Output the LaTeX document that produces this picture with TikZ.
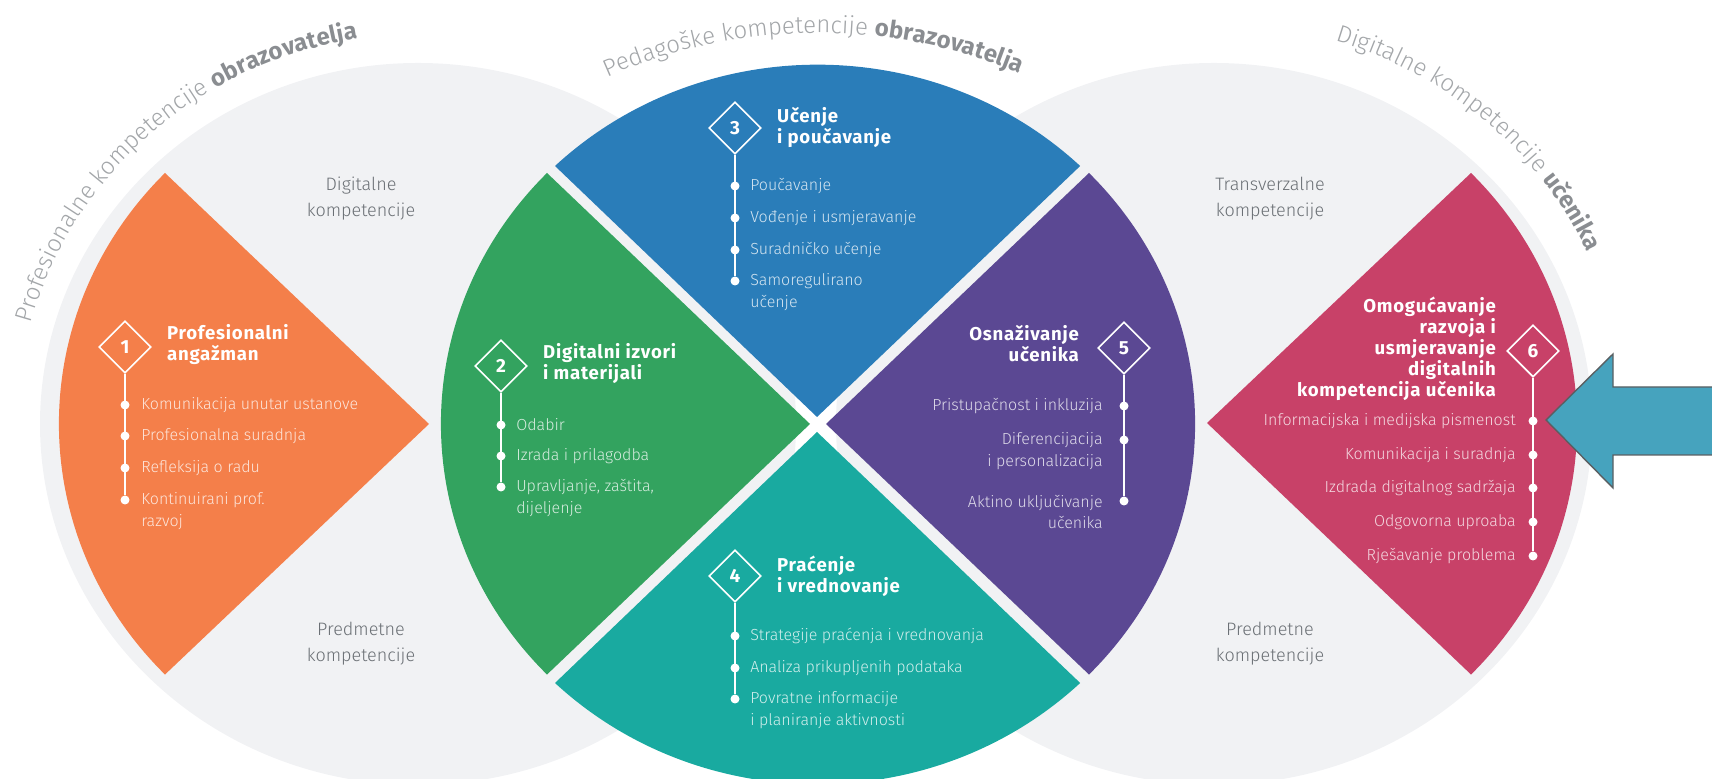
\documentclass[tikz,border=0pt]{standalone}
\usepackage{fontspec}
\setmainfont{Fira Sans}
\newfontfamily\lightfont{Fira Sans Light}
\newfontfamily\headfont[LetterSpace=4]{Fira Sans}
\usetikzlibrary{positioning, shapes.geometric, decorations.text}

\definecolor{panelgray}{HTML}{F1F2F4}
\definecolor{labelgray}{HTML}{6B7075}
\definecolor{curvegray}{HTML}{A3A6A9}
\definecolor{curvebold}{HTML}{8A8D91}
\definecolor{sectororange}{HTML}{F47F4A}
\definecolor{sectorgreen}{HTML}{33A35F}
\definecolor{sectorblue}{HTML}{2A7DB9}
\definecolor{sectorteal}{HTML}{19AAA0}
\definecolor{sectorpurple}{HTML}{5B4893}
\definecolor{sectorrose}{HTML}{C84168}
\definecolor{pointerblue}{HTML}{46A3BE}
\definecolor{pointerline}{HTML}{5A5F62}

\newcommand{\curvelight}{\fontsize{12}{14}\selectfont\lightfont\color{curvegray}}
\newcommand{\curveheavy}{\fontsize{12}{14}\selectfont\bfseries\color{curvebold}}

\begin{document}
\begin{tikzpicture}[
    x=0.5pt,
    y=0.5pt,
    sector/.style={x radius=189pt, y radius=180.5pt},
    numbox/.style={diamond, draw=white, line width=0.8pt, minimum width=26pt, minimum height=26pt, inner sep=0pt, text=white, font=\fontsize{9.5}{10}\selectfont\bfseries},
    stem/.style={draw=white, line width=1pt},
    bullet/.style={circle, fill=white, minimum size=4.5pt, inner sep=0pt},
    headline/.style={text=white, inner sep=0pt, font=\fontsize{9.3}{10.5}\selectfont\headfont\bfseries},
    itemlabel/.style={text=white, text opacity=0.8, inner sep=0pt, font=\fontsize{8}{10.9}\selectfont\lightfont},
    sidelabel/.style={text=labelgray, align=center, inner sep=0pt, font=\fontsize{9}{13}\selectfont\lightfont},
    pointer/.style={fill=pointerblue, draw=pointerline, line width=0.7pt}
]

   \useasboundingbox (0,0) rectangle (1712,779);

   % Gray discs
   \fill[panelgray] (418,355) ellipse [x radius=189pt, y radius=180.5pt];
   \fill[panelgray] (1214,355) ellipse [x radius=189pt, y radius=180.5pt];

   % Sectors
   \fill[sectororange] (429,355) -- (165,606) arc[sector, start angle=136, end angle=224] -- cycle;
   \fill[sectorgreen] (810,355) -- (547,606) arc[sector, start angle=136, end angle=224] -- cycle;
   \fill[sectorblue] (817,362) -- (555,613) arc[sector, start angle=134, end angle=46] -- cycle;
   \fill[sectorteal] (817,347) -- (555,96) arc[sector, start angle=226, end angle=314] -- cycle;
   \fill[sectorpurple] (826,355) -- (1089,606) arc[sector, start angle=44, end angle=-44] -- cycle;
   \fill[sectorrose] (1207,356) -- (1471,606) arc[sector, start angle=44, end angle=-44] -- cycle;

   % Curved titles
   \path[decorate, decoration={text along path, text={|\curvelight|Profesionalne kompetencije |\curveheavy|obrazovatelja}}]
   (421,354) ++(165:202pt and 195.5pt) arc[start angle=165, end angle=88, x radius=202pt, y radius=195.5pt];
   \path[decorate, decoration={text along path, text={|\curvelight|Pedagoške kompetencije |\curveheavy|obrazovatelja}}]
   (818,348) ++(117.3:230pt and 199pt) arc[start angle=117.3, end angle=55, x radius=230pt, y radius=199pt];
   \path[decorate, decoration={text along path, text={|\curvelight|Digitalne kompetencije |\curveheavy|učenika}}]
   (1209,367) ++(72.3:207.5pt and 195pt) arc[start angle=72.3, end angle=15, x radius=207.5pt, y radius=195pt];

   % Side labels
   \node[sidelabel] (digital) at (361,580) {Digitalne\\kompetencije};
   \node[sidelabel] (subject) at (361,135) {Predmetne\\kompetencije};
   \node[sidelabel] (transversal) at (1270,580) {Transverzalne\\kompetencije};
   \node[sidelabel] (subjectright) at (1270,135) {Predmetne\\kompetencije};

   % Area 1
   \node[numbox] (n1) at (125,432) {1};
   \node[headline, align=left, right=7.5pt of n1, yshift=1pt] (t1) {Profesionalni\\angažman};
   \node[bullet] (b11) at (125,374) {};
   \node[bullet] (b12) at (125,343) {};
   \node[bullet] (b13) at (125,311) {};
   \node[bullet] (b14) at (125,279) {};
   \draw[stem] (n1) -- (b14);
   \node[itemlabel, right=5.5pt of b11] (i11) {Komunikacija unutar ustanove};
   \node[itemlabel, right=5.5pt of b12] (i12) {Profesionalna suradnja};
   \node[itemlabel, right=5.5pt of b13] (i13) {Refleksija o radu};
   \node[itemlabel, align=left, right=5.5pt of b14, yshift=-5.5pt] (i14) {Kontinuirani prof.\\razvoj};

   % Area 2
   \node[numbox] (n2) at (501,413) {2};
   \node[headline, align=left, right=7.5pt of n2, yshift=1pt] (t2) {Digitalni izvori\\i materijali};
   \node[bullet] (b21) at (501,354) {};
   \node[bullet] (b22) at (501,323) {};
   \node[bullet] (b23) at (501,292) {};
   \draw[stem] (n2) -- (b23);
   \node[itemlabel, right=5pt of b21] (i21) {Odabir};
   \node[itemlabel, right=5pt of b22] (i22) {Izrada i prilagodba};
   \node[itemlabel, align=left, right=5pt of b23, yshift=-5.5pt] (i23) {Upravljanje, zaštita,\\dijeljenje};

   % Area 3
   \node[numbox] (n3) at (735,651) {3};
   \node[headline, align=left, right=7.5pt of n3] (t3) {Učenje\\i poučavanje};
   \node[bullet] (b31) at (735,593) {};
   \node[bullet] (b32) at (735,561) {};
   \node[bullet] (b33) at (735,529) {};
   \node[bullet] (b34) at (735,498) {};
   \draw[stem] (n3) -- (b34);
   \node[itemlabel, right=5pt of b31] (i31) {Poučavanje};
   \node[itemlabel, right=5pt of b32] (i32) {Vođenje i usmjeravanje};
   \node[itemlabel, right=5pt of b33] (i33) {Suradničko učenje};
   \node[itemlabel, align=left, right=5pt of b34, yshift=-5.5pt] (i34) {Samoregulirano\\učenje};

   % Area 4
   \node[numbox] (n4) at (735,203) {4};
   \node[headline, align=left, right=7.5pt of n4] (t4) {Praćenje\\i vrednovanje};
   \node[bullet] (b41) at (735,143) {};
   \node[bullet] (b42) at (735,111) {};
   \node[bullet] (b43) at (735,80) {};
   \draw[stem] (n4) -- (b43);
   \node[itemlabel, right=5pt of b41] (i41) {Strategije praćenja i vrednovanja};
   \node[itemlabel, right=5pt of b42] (i42) {Analiza prikupljenih podataka};
   \node[itemlabel, align=left, right=5pt of b43, yshift=-5.5pt] (i43) {Povratne informacije\\i planiranje aktivnosti};

   % Area 5
   \node[numbox] (n5) at (1124,431) {5};
   \node[headline, align=right, left=9pt of n5, yshift=2pt] (t5) {Osnaživanje\\učenika};
   \node[bullet] (b51) at (1124,373) {};
   \node[bullet] (b52) at (1124,339) {};
   \node[bullet] (b53) at (1124,278) {};
   \draw[stem] (n5) -- (b53);
   \node[itemlabel, left=8pt of b51] (i51) {Pristupačnost i inkluzija};
   \node[itemlabel, align=right, left=8pt of b52, yshift=-5.5pt] (i52) {Diferencijacija\\i personalizacija};
   \node[itemlabel, align=right, left=8pt of b53, yshift=-5.5pt] (i53) {Aktino uključivanje\\učenika};

   % Area 6
   \node[numbox] (n6) at (1533,428) {6};
   \node[headline, align=right, left=5pt of n6, yshift=1pt] (t6) {Omogućavanje\\razvoja i\\usmjeravanje\\digitalnih\\kompetencija učenika};
   \node[bullet] (b61) at (1533,358) {};
   \node[bullet] (b62) at (1533,324) {};
   \node[bullet] (b63) at (1533,291) {};
   \node[bullet] (b64) at (1533,257) {};
   \node[bullet] (b65) at (1533,223) {};
   \draw[stem] (n6) -- (b65);
   \node[itemlabel, left=6pt of b61] (i61) {Informacijska i medijska pismenost};
   \node[itemlabel, left=6pt of b62] (i62) {Komunikacija i suradnja};
   \node[itemlabel, left=6pt of b63] (i63) {Izdrada digitalnog sadržaja};
   \node[itemlabel, left=6pt of b64] (i64) {Odgovorna uproaba};
   \node[itemlabel, left=6pt of b65] (i65) {Rješavanje problema};

   % Arrow
   \draw[pointer] (1546,359) -- (1613,425) -- (1613,392) -- (1725,392) -- (1725,324) -- (1613,324) -- (1613,291) -- cycle;
\end{tikzpicture}
\end{document}
